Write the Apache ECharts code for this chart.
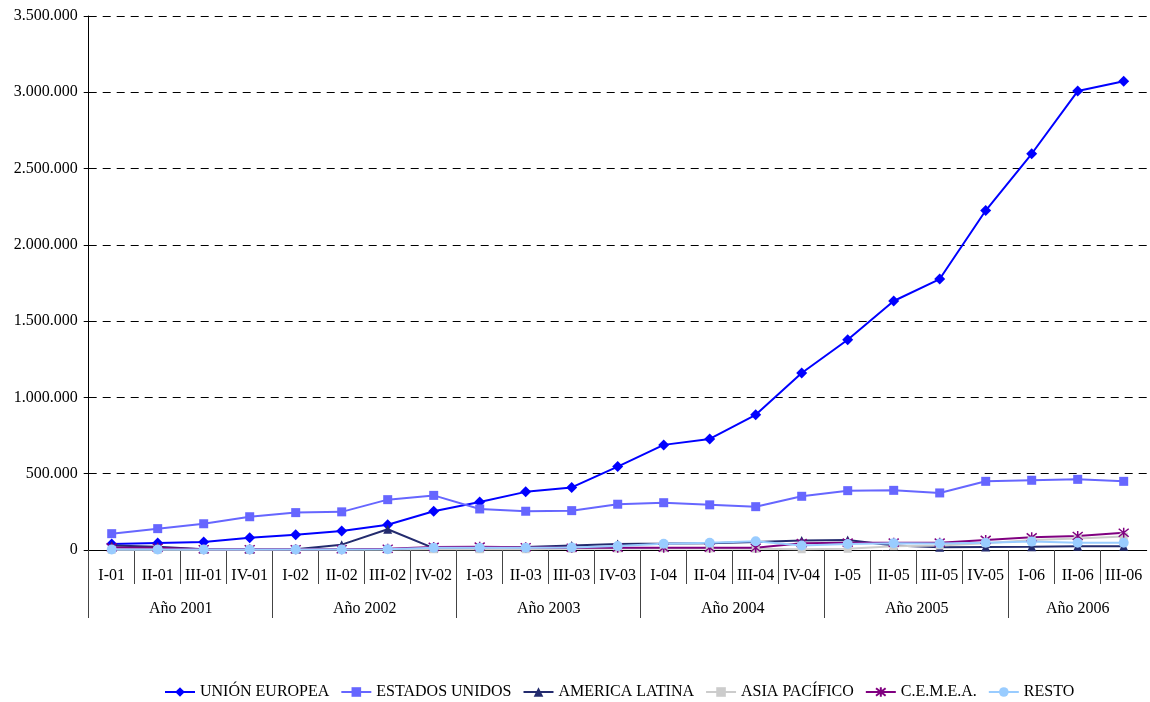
<!DOCTYPE html>
<html>
<head>
<meta charset="utf-8">
<title>Evolución trimestral por zona</title>
<script src="https://cdn.jsdelivr.net/npm/echarts@6/dist/echarts.min.js"></script>
<style>
html, body { margin: 0; padding: 0; background: #fff; }
#main { width: 1150px; height: 702px; }
</style>
</head>
<body>
<div id="main"></div>
<script>
var trimestres = ["I-01", "II-01", "III-01", "IV-01", "I-02", "II-02", "III-02", "IV-02",
  "I-03", "II-03", "III-03", "IV-03", "I-04", "II-04", "III-04", "IV-04",
  "I-05", "II-05", "III-05", "IV-05", "I-06", "II-06", "III-06"];
var anios = ["Año 2001", "Año 2002", "Año 2003", "Año 2004", "Año 2005", "Año 2006"];
var trimestresPorAnio = [4, 4, 4, 4, 4, 3];
var yTicks = [0, 3500000, 500000]; // min, max, intervalo

var unionEuropea = [39000, 46000, 52000, 81000, 100000, 125000, 166000, 254000,
  315000, 381000, 410000, 547000, 689000, 728000, 886000, 1160000,
  1378000, 1632000, 1776000, 2225000, 2597000, 3008000, 3073000];
var estadosUnidos = [107000, 140000, 172000, 218000, 245000, 250000, 330000, 358000,
  269000, 254000, 258000, 300000, 310000, 296000, 284000, 352000,
  389000, 391000, 374000, 450000, 457000, 463000, 450000];
var americaLatina = [30000, 22000, 5000, 3000, 5000, 35000, 136000, 12000,
  15000, 20000, 30000, 40000, 42000, 45000, 52000, 62000,
  65000, 30000, 18000, 20000, 22000, 25000, 25000];
var asiaPacifico = [2000, 2000, 2000, 2000, 3000, 3000, 3000, 5000,
  5000, 5000, 8000, 10000, 12000, 10000, 8000, 5000,
  8000, 25000, 30000, 45000, 65000, 75000, 88000];
var cemea = [17000, 15000, 5000, 5000, 5000, 5000, 8000, 20000,
  22000, 18000, 15000, 15000, 15000, 15000, 15000, 45000,
  48000, 48000, 48000, 66000, 83000, 92000, 113000];
var resto = [3000, 3000, 3000, 3000, 3000, 3000, 5000, 15000,
  15000, 15000, 17000, 26000, 41000, 48000, 57000, 30000,
  39000, 45000, 43000, 48000, 55000, 48000, 48000];

var FONT = "Liberation Serif";

// eje auxiliar de medios trimestres: separadores y rótulos de año
var medios = [];
for (var k = 0; k <= trimestres.length * 2; k++) medios.push("");
var cortesAnio = [];
var inicio = 0;
anios.forEach(function (a, i) {
  cortesAnio.push(inicio * 2);
  medios[inicio * 2 + trimestresPorAnio[i]] = a;
  inicio += trimestresPorAnio[i];
});
var ultimo = trimestres.length * 2;

function miles(v) {
  return String(v).replace(/\B(?=(\d{3})+(?!\d))/g, ".");
}

function serie(nombre, datos, color, simbolo, tam, extra) {
  var s = {
    name: nombre,
    type: "line",
    data: datos,
    symbol: simbolo,
    symbolSize: tam,
    showSymbol: true,
    lineStyle: { color: color, width: 2 },
    itemStyle: { color: color },
    emphasis: { disabled: true }
  };
  if (extra) s.itemStyle = extra;
  return s;
}

var chart = echarts.init(document.getElementById("main"));
var option = {
  animation: false,
  textStyle: { fontFamily: FONT },
  grid: { left: 88.7, right: 3.3, top: 16, bottom: 152, containLabel: false },
  legend: {
    left: 159,
    top: 679,
    itemWidth: 30,
    itemHeight: 12,
    itemGap: 11,
    textStyle: { fontFamily: FONT, fontSize: 16, color: "#000" },
    data: ["UNIÓN EUROPEA", "ESTADOS UNIDOS", "AMERICA LATINA", "ASIA PACÍFICO", "C.E.M.E.A.", "RESTO"]
  },
  xAxis: [
    {
      type: "category",
      data: trimestres,
      boundaryGap: true,
      position: "bottom",
      axisLine: { lineStyle: { color: "#000", width: 1 } },
      axisTick: { show: false },
      axisLabel: { interval: 0, margin: 18, fontFamily: FONT, fontSize: 16, color: "#000" },
      splitLine: { show: false }
    },
    {
      // separadores de trimestre
      type: "category",
      data: medios,
      boundaryGap: false,
      position: "bottom",
      axisLine: { show: false },
      axisTick: {
        show: true,
        length: 34,
        lineStyle: { color: "#444" },
        interval: function (i) { return i % 2 === 0 && i > 0 && i < ultimo; }
      },
      axisLabel: { show: false },
      splitLine: { show: false }
    },
    {
      // separadores y rótulos de año
      type: "category",
      data: medios,
      boundaryGap: false,
      position: "bottom",
      axisLine: { show: false },
      axisTick: {
        show: true,
        length: 68,
        lineStyle: { color: "#444" },
        interval: function (i) { return cortesAnio.indexOf(i) >= 0; }
      },
      axisLabel: {
        margin: 51,
        fontFamily: FONT,
        fontSize: 16,
        color: "#000",
        interval: function (i, v) { return v !== ""; }
      },
      splitLine: { show: false }
    }
  ],
  yAxis: {
    type: "value",
    min: yTicks[0],
    max: yTicks[1],
    interval: yTicks[2],
    axisLine: { show: true, lineStyle: { color: "#000", width: 1 } },
    axisTick: { show: true, length: 5, lineStyle: { color: "#000" } },
    axisLabel: {
      margin: 11,
      fontFamily: FONT,
      fontSize: 16,
      color: "#000",
      formatter: miles
    },
    splitLine: { show: true, lineStyle: { color: "#000", width: 1, type: [8, 6] } }
  },
  series: [
    serie("UNIÓN EUROPEA", unionEuropea, "#0000FF", "diamond", 11),
    serie("ESTADOS UNIDOS", estadosUnidos, "#6666FF", "rect", 9),
    serie("AMERICA LATINA", americaLatina, "#232B6E", "triangle", 9),
    serie("ASIA PACÍFICO", asiaPacifico, "#CCCCCC", "rect", 8),
    serie("C.E.M.E.A.", cemea, "#800080",
      "path://M1,1L9,9M9,1L1,9M5,0L5,10", 10,
      { color: "#800080", borderColor: "#800080", borderWidth: 1.5 }),
    serie("RESTO", resto, "#99CCFF", "circle", 10)
  ]
};
chart.setOption(option);
</script>
</body>
</html>
